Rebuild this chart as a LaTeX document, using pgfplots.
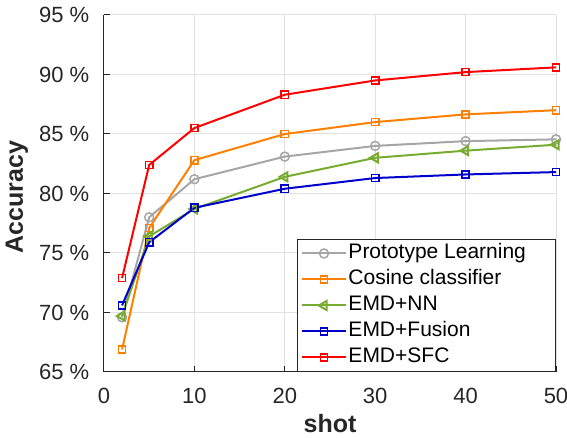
\documentclass[border=0pt]{standalone}
\usepackage{fontspec}
\setmainfont{Liberation Sans}
\usepackage{pgfplots}
\pgfplotsset{compat=1.18}

\definecolor{cgray}{RGB}{166,166,166}
\definecolor{corange}{RGB}{255,128,0}
\definecolor{cgreen}{RGB}{119,172,48}
\definecolor{cblue}{RGB}{0,0,205}
\definecolor{cred}{RGB}{255,0,0}
\definecolor{axgray}{RGB}{38,38,38}
\definecolor{gridgray}{RGB}{225,225,225}

% legend text padded to the width of the reference legend box
\newcommand\lgd[1]{\makebox[101pt][l]{#1}}

\begin{document}
\begin{tikzpicture}
\path[use as bounding box] (-52pt,-33pt) rectangle (231.5pt,186pt);
\begin{axis}[
  scale only axis, width=226pt, height=178.5pt,
  xmin=0, xmax=50, ymin=65, ymax=95,
  clip=false,
  axis x line*=bottom, axis y line*=left,
  axis line style={axgray, line width=0.5pt, -},
  xtick={0,10,...,50}, xticklabels={0,10,20,30,40,50},
  ytick={65,70,...,95},
  yticklabels={65 \%,70 \%,75 \%,80 \%,85 \%,90 \%,95 \%},
  tick align=inside, major tick length=3pt,
  tick style={axgray, line width=0.5pt},
  grid=major, major grid style={gridgray, line width=0.5pt},
  tick label style={font=\fontsize{11}{13}\selectfont, text=axgray},
  xticklabel style={yshift=-4.3pt},
  yticklabel style={xshift=-3.8pt},
  xlabel={shot}, ylabel={Accuracy},
  every axis x label/.style={at={(axis description cs:0.5,-0.1457)}, anchor=center,
    font=\fontsize{12.5}{15}\selectfont\bfseries, text=axgray},
  every axis y label/.style={at={(axis description cs:-0.1925,0.49)}, rotate=90, anchor=center,
    font=\fontsize{12.5}{15}\selectfont\bfseries, text=axgray},
  legend style={at={(1,0)}, anchor=south east, draw=axgray, line width=0.5pt, fill=white,
    font=\fontsize{10.5}{12}\selectfont, inner xsep=1.75pt, inner ysep=0.5pt,
    row sep=0pt, cells={anchor=west},
    nodes={inner xsep=0.75pt, inner ysep=1.5pt, text height=7.7pt, text depth=2.3pt}},
  legend image code/.code={\draw[mark repeat=2, mark phase=2]
    plot coordinates {(0pt,0pt) (11pt,0pt) (22pt,0pt)};},
  every axis plot/.append style={line width=1pt, mark options={solid, line width=0.75pt}},
]
\addplot[cgray, mark=o, mark size=2.25pt] coordinates {
  (2,69.6) (5,78.0) (10,81.2) (20,83.1) (30,84.0) (40,84.4) (50,84.55)
};
\addplot[corange, mark=square, mark size=1.8pt] coordinates {
  (2,66.9) (5,77.1) (10,82.8) (20,85.0) (30,86.0) (40,86.65) (50,87.0)
};
\addplot[cgreen, mark=triangle, mark size=2.6pt, mark options={rotate=90}] coordinates {
  (2,69.7) (5,76.4) (10,78.7) (20,81.4) (30,83.0) (40,83.6) (50,84.1)
};
\addplot[cblue, mark=square, mark size=1.8pt] coordinates {
  (2,70.6) (5,75.9) (10,78.8) (20,80.4) (30,81.3) (40,81.6) (50,81.8)
};
\addplot[cred, mark=square, mark size=1.8pt] coordinates {
  (2,72.9) (5,82.4) (10,85.5) (20,88.3) (30,89.5) (40,90.2) (50,90.6)
};
\legend{\lgd{Prototype Learning}, \lgd{Cosine classifier}, \lgd{EMD+NN},
  \lgd{EMD+Fusion}, \lgd{EMD+SFC}}
\end{axis}
\end{tikzpicture}
\end{document}
